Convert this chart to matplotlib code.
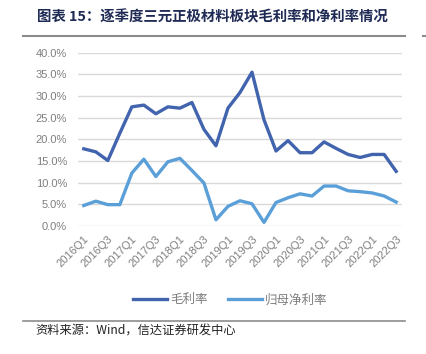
import matplotlib.pyplot as plt
from matplotlib.ticker import FuncFormatter

plt.rcParams["font.family"] = ["Liberation Sans", "Noto Sans CJK SC", "DejaVu Sans"]

# ── Data ──────────────────────────────────────────────────────────────
quarters = [f"{y}Q{q}" for y in range(2016, 2023) for q in range(1, 5)][:27]

gross_margin = [17.8, 17.1, 15.1, 21.4, 27.5, 27.9, 25.9, 27.5, 27.2, 28.5,
                22.3, 18.5, 27.2, 30.8, 35.5, 24.5, 17.3, 19.7, 16.9, 16.9,
                19.4, 17.9, 16.5, 15.8, 16.5, 16.5, 12.6]
net_margin = [4.7, 5.7, 4.9, 4.9, 12.2, 15.4, 11.4, 14.8, 15.6, 12.8,
              9.9, 1.4, 4.5, 5.8, 5.1, 0.8, 5.4, 6.5, 7.4, 6.9,
              9.2, 9.2, 8.1, 7.9, 7.6, 6.9, 5.5]

series_names = ["毛利率", "归母净利率"]
title = "图表 15：逐季度三元正极材料板块毛利率和净利率情况"
source = "资料来源：Wind，信达证券研发中心"

DARK = "#4264AE"
LIGHT = "#5B9FD8"
GREY = "#7F7F7F"

# ── Figure ────────────────────────────────────────────────────────────
fig = plt.figure(figsize=(4.27, 3.54), dpi=100)
ax = fig.add_axes([0.183, 0.362, 0.758, 0.489])

x = range(len(quarters))
ax.plot(x, [v / 100 for v in gross_margin], color=DARK, lw=2.4,
        label=series_names[0], solid_joinstyle="round")
ax.plot(x, [v / 100 for v in net_margin], color=LIGHT, lw=2.4,
        label=series_names[1], solid_joinstyle="round")

ax.set_ylim(0, 0.40)
ax.set_xlim(-0.47, len(quarters) - 0.53)
ax.set_yticks([i * 0.05 for i in range(9)])
ax.yaxis.set_major_formatter(FuncFormatter(lambda v, _: f"{v * 100:.1f}%"))
ax.set_xticks(list(x)[::2])
ax.set_xticklabels(quarters[::2], rotation=45, ha="right",
                   rotation_mode="anchor")

ax.grid(axis="y", color="#D9D9D9", lw=1)
ax.set_axisbelow(True)
for s in ax.spines.values():
    s.set_visible(False)
ax.tick_params(length=0, colors=GREY, labelsize=8)
ax.tick_params(axis="x", pad=6)
ax.tick_params(axis="y", pad=8)

leg = ax.legend(loc="upper center", bbox_to_anchor=(0.47, -0.33), ncol=2,
                frameon=False, fontsize=9, handlelength=2.7,
                columnspacing=1.6, handletextpad=0.25)
for t in leg.get_texts():
    t.set_color(GREY)

# title / source with rules
fig.text(0.087, 0.952, title, fontsize=10.4, fontweight="bold",
         color="#1F2B55", family=["Noto Sans CJK SC", "DejaVu Sans"],
         va="center")
fig.add_artist(plt.Line2D([0.054, 0.949], [0.898, 0.898], color="#8C8C8C", lw=1.5))
fig.add_artist(plt.Line2D([0.991, 1.0], [0.898, 0.898], color="#8C8C8C", lw=1.5))
fig.add_artist(plt.Line2D([0.054, 0.949], [0.093, 0.093], color="#8C8C8C", lw=1.2))
fig.text(0.082, 0.065, source, fontsize=8.8, style="italic", color="#222222",
         family=["Noto Sans CJK SC", "DejaVu Sans"], va="center")

fig.savefig("out.png", dpi=100)
